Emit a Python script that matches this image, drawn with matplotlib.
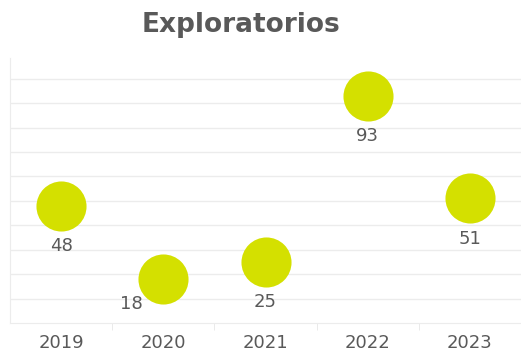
import matplotlib
matplotlib.use("Agg")
import matplotlib.pyplot as plt

# data
years = ['2019', '2020', '2021', '2022', '2023']
values = [48, 18, 25, 93, 51]

dot_color = '#d4e000'
text_color = '#595959'

fig = plt.figure(figsize=(5.21, 3.52), dpi=100)
ax = fig.add_axes([10 / 521, 29 / 352, 511 / 521, 265 / 352])

x = list(range(len(years)))
ax.scatter(x, values, s=1300, color=dot_color, zorder=3, linewidths=0)

for xi, v in zip(x, values):
    offset = (0, -29)
    if v < 20:
        # label would run into the axis, so it is pushed to the lower left
        offset = (-23, -18)
    ax.annotate(str(v), (xi, v), xytext=offset, textcoords='offset points',
                ha='center', va='center', fontsize=13, color=text_color)

ax.set_xlim(-0.5, len(years) - 0.5)
ax.set_ylim(0, 108.5)
ax.set_yticks(range(10, 101, 10))
ax.set_yticklabels([])
ax.tick_params(axis='y', length=0)
ax.grid(axis='y', color='#ececec', linewidth=1)
ax.set_axisbelow(True)

ax.set_xticks(x)
ax.set_xticklabels(years, fontsize=13, color=text_color)
ax.tick_params(axis='x', length=0, pad=8)
ax.set_xticks([i + 0.5 for i in range(len(years) - 1)], minor=True)
ax.tick_params(axis='x', which='minor', length=5, color='#e6e6e6')

for side in ['top', 'right']:
    ax.spines[side].set_visible(False)
ax.spines['left'].set_color('#ececec')
ax.spines['bottom'].set_color('#ececec')

fig.text(0.463, 0.93, 'Exploratorios', ha='center', va='center',
         fontsize=19, fontweight='bold', color=text_color)

fig.savefig('out.png', dpi=100)
